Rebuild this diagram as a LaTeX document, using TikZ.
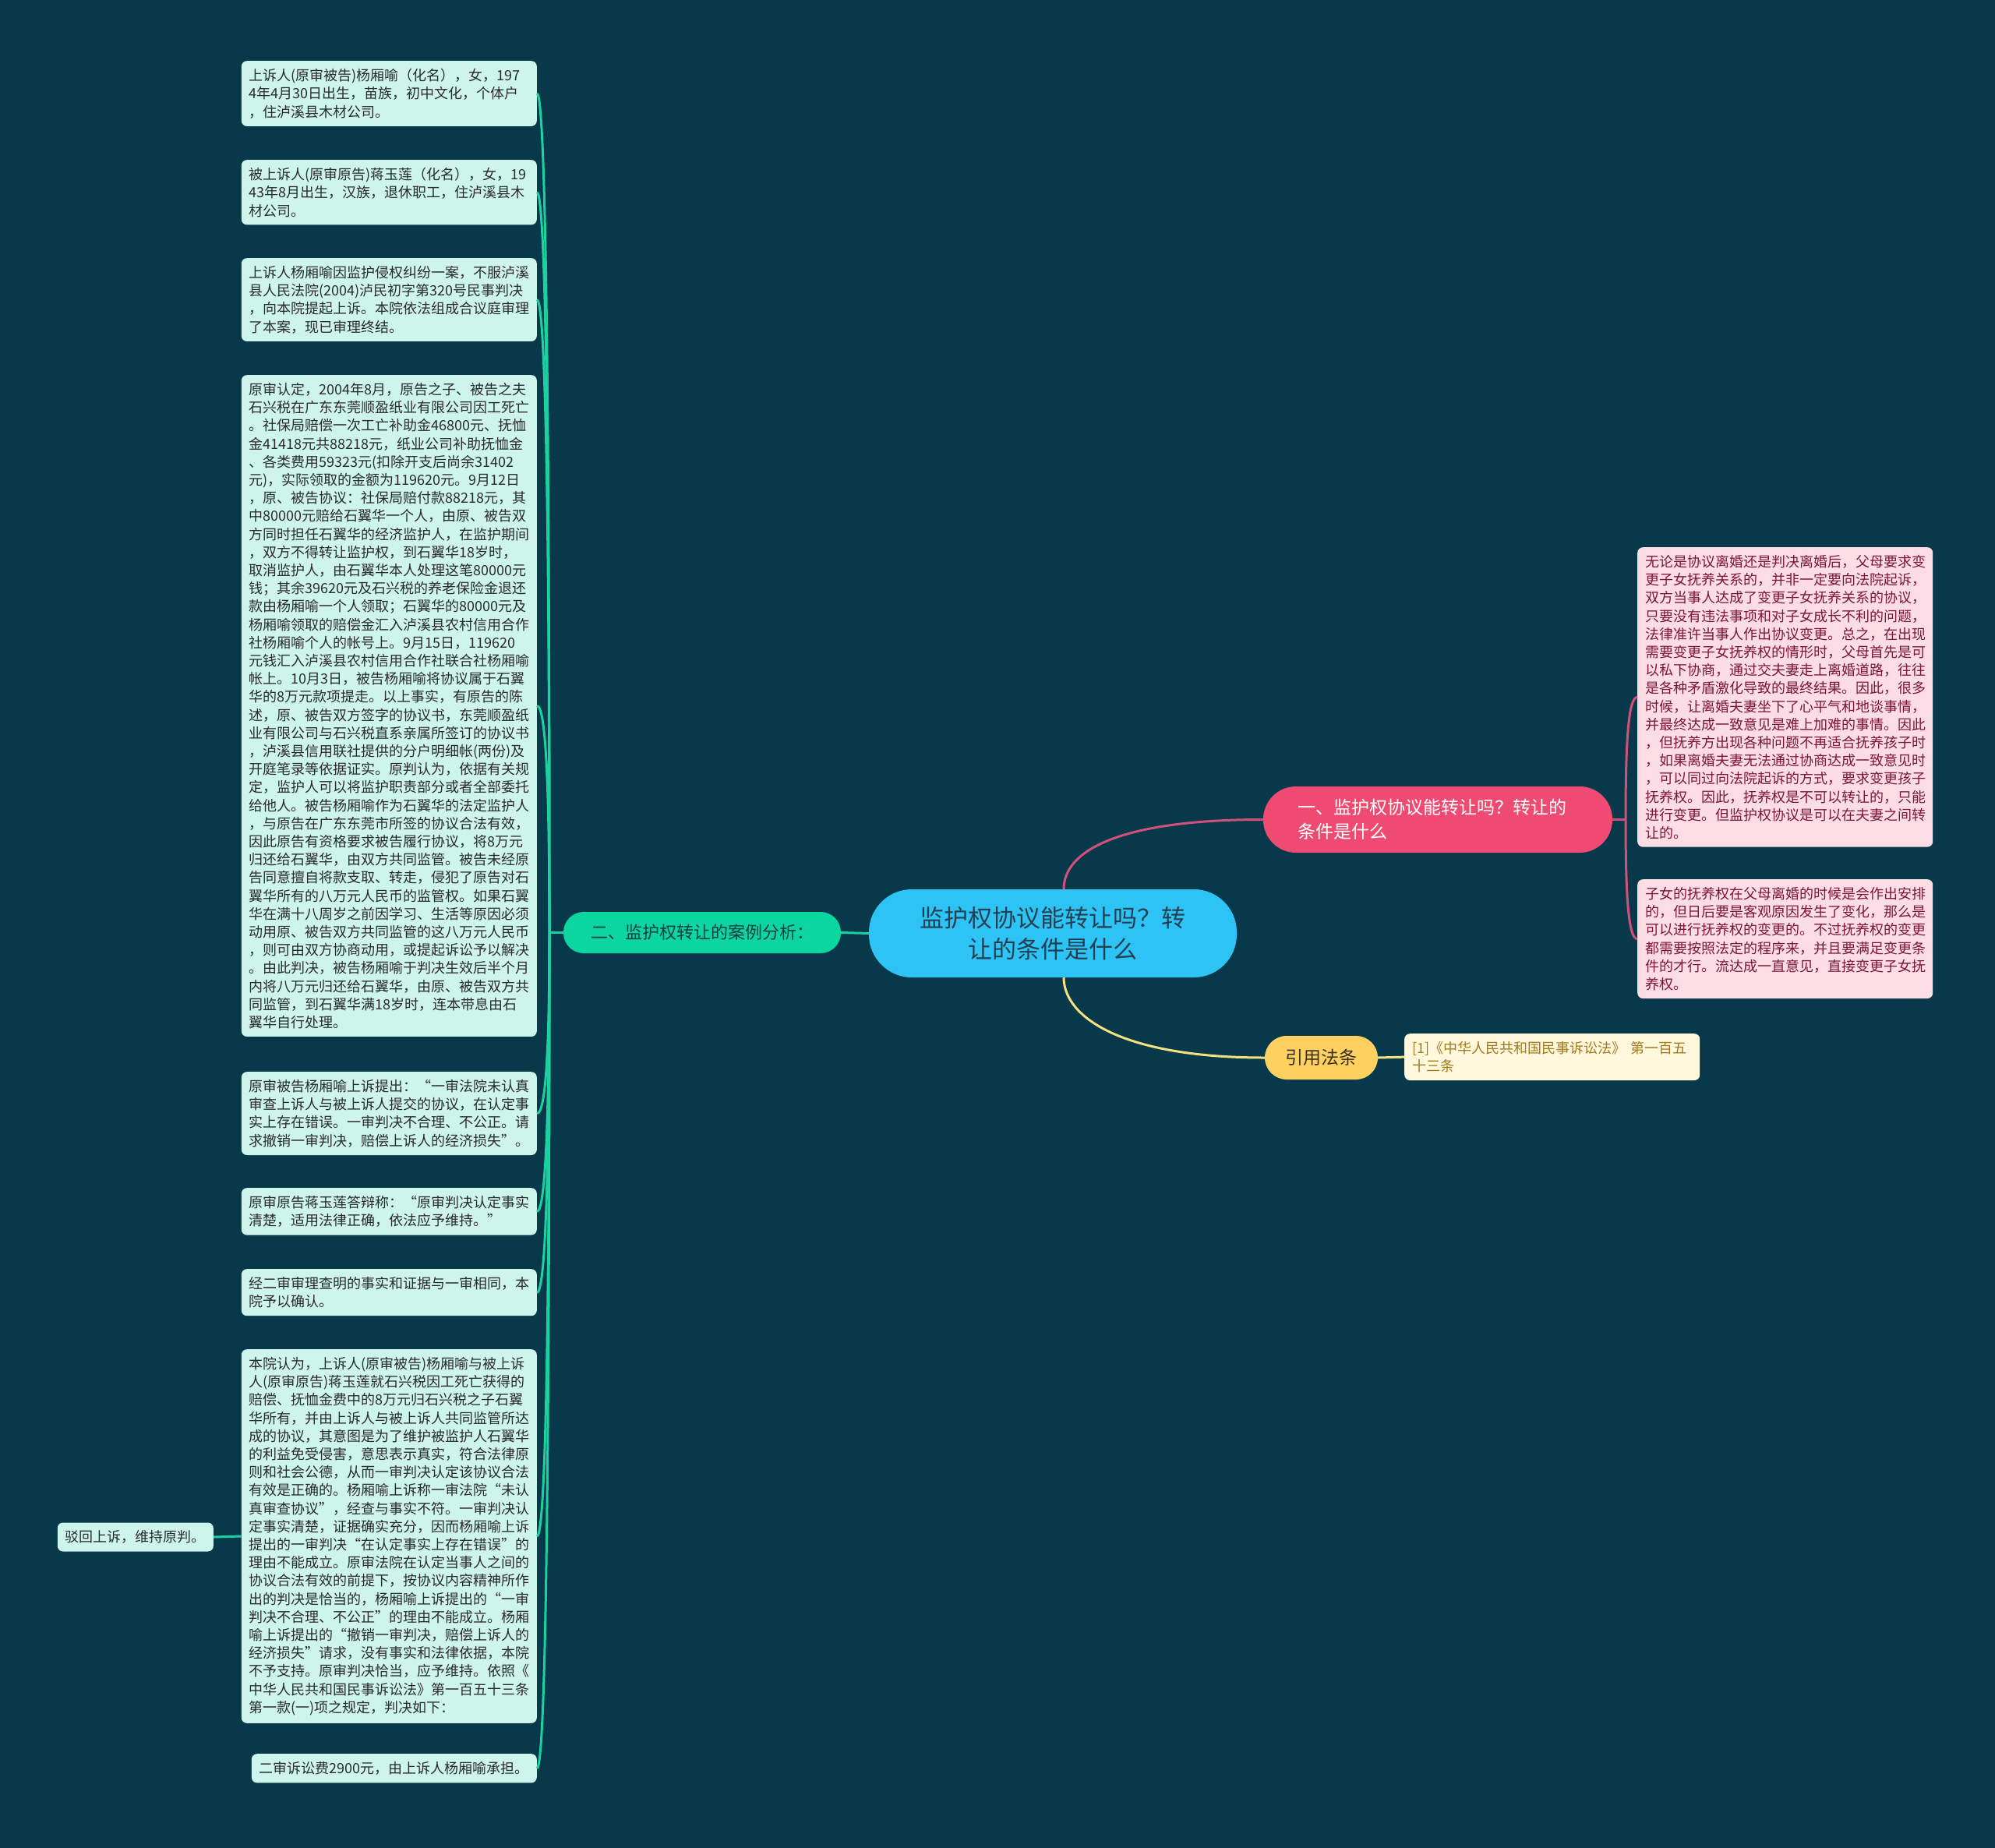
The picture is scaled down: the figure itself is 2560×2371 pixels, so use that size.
\documentclass[tikz,border=0pt]{standalone}
\usepackage{fontspec}
\setmainfont{Noto Sans CJK SC}
\usetikzlibrary{calc}
\definecolor{bgc}{HTML}{07394B}
\definecolor{mint}{HTML}{CDF5EC}
\definecolor{darktext}{HTML}{2A2A2A}
\definecolor{gline}{HTML}{1BD1A0}
\definecolor{gnode}{HTML}{0CD6A0}
\definecolor{gtext}{HTML}{11403F}
\definecolor{rootc}{HTML}{2DC4F5}
\definecolor{roottext}{HTML}{233F52}
\definecolor{pnode}{HTML}{EF4B72}
\definecolor{pline}{HTML}{D2507A}
\definecolor{pbox}{HTML}{FCDDE4}
\definecolor{ptext}{HTML}{7D1538}
\definecolor{ynode}{HTML}{FDD15F}
\definecolor{ytext}{HTML}{3A3020}
\definecolor{yline}{HTML}{F3E07E}
\definecolor{citefill}{HTML}{FFF8DD}
\definecolor{citetext}{HTML}{A3791C}
\newcommand\boxfont{\fontsize{18bp}{23.2bp}\selectfont}
\begin{document}
\begin{tikzpicture}[x=1bp,y=-1bp,
  basebox/.style={draw=none, rounded corners=7bp, inner xsep=10bp, inner ysep=10bp, align=left, font=\boxfont},
  leftbox/.style={basebox, fill=mint, text=darktext, text width=359bp, anchor=north east},
  leftsingle/.style={basebox, fill=mint, text=darktext},
  pinkbox/.style={basebox, fill=pbox, text=ptext, text width=359bp, anchor=north west},
  citebox/.style={basebox, fill=citefill, text=citetext, text width=359bp, anchor=north west},
  gconn/.style={draw=gline, line width=3bp},
  pconn/.style={draw=pline, line width=3bp},
  yconn/.style={draw=yline, line width=3bp}]
\useasboundingbox[fill=bgc] (0,0) rectangle (2560,2371);

% root and main branches
\node[fill=rootc, text=roottext, rounded corners=55bp, minimum width=472bp, minimum height=113bp, align=center, inner sep=0pt, font=\fontsize{31bp}{40bp}\selectfont] (root) at (1351,1197.5) {监护权协议能转让吗？转\\让的条件是什么};
\node[fill=pnode, text=white, rounded corners=42bp, text width=360bp, inner xsep=44bp, minimum height=85bp, align=left, font=\fontsize{23bp}{31bp}\selectfont] (p1) at (1845,1051.5) {一、监护权协议能转让吗？转让的\\条件是什么};
\node[fill=gnode, text=gtext, rounded corners=26bp, minimum width=356bp, minimum height=53bp, align=center, inner sep=0pt, font=\fontsize{22bp}{28bp}\selectfont] (g) at (901,1196.5) {二、监护权转让的案例分析：};
\node[fill=ynode, text=ytext, rounded corners=28bp, minimum width=145bp, minimum height=56bp, align=center, inner sep=0pt, font=\fontsize{23bp}{28bp}\selectfont] (y1) at (1695.5,1357) {引用法条};

% left column
\node[leftbox] (b1) at (689,78) {上诉人(原审被告)杨厢喻（化名），女，197\\4年4月30日出生，苗族，初中文化，个体户\\，住泸溪县木材公司。};
\node[leftbox] (b2) at (689,205) {被上诉人(原审原告)蒋玉莲（化名），女，19\\43年8月出生，汉族，退休职工，住泸溪县木\\材公司。};
\node[leftbox] (b3) at (689,331) {上诉人杨厢喻因监护侵权纠纷一案，不服泸溪\\县人民法院(2004)泸民初字第320号民事判决\\，向本院提起上诉。本院依法组成合议庭审理\\了本案，现已审理终结。};
\node[leftbox] (b4) at (689,481) {原审认定，2004年8月，原告之子、被告之夫\\石兴税在广东东莞顺盈纸业有限公司因工死亡\\。社保局赔偿一次工亡补助金46800元、抚恤\\金41418元共88218元，纸业公司补助抚恤金\\、各类费用59323元(扣除开支后尚余31402\\元)，实际领取的金额为119620元。9月12日\\，原、被告协议：社保局赔付款88218元，其\\中80000元赔给石翼华一个人，由原、被告双\\方同时担任石翼华的经济监护人，在监护期间\\，双方不得转让监护权，到石翼华18岁时，\\取消监护人，由石翼华本人处理这笔80000元\\钱；其余39620元及石兴税的养老保险金退还\\款由杨厢喻一个人领取；石翼华的80000元及\\杨厢喻领取的赔偿金汇入泸溪县农村信用合作\\社杨厢喻个人的帐号上。9月15日，119620\\元钱汇入泸溪县农村信用合作社联合社杨厢喻\\帐上。10月3日，被告杨厢喻将协议属于石翼\\华的8万元款项提走。以上事实，有原告的陈\\述，原、被告双方签字的协议书，东莞顺盈纸\\业有限公司与石兴税直系亲属所签订的协议书\\，泸溪县信用联社提供的分户明细帐(两份)及\\开庭笔录等依据证实。原判认为，依据有关规\\定，监护人可以将监护职责部分或者全部委托\\给他人。被告杨厢喻作为石翼华的法定监护人\\，与原告在广东东莞市所签的协议合法有效，\\因此原告有资格要求被告履行协议，将8万元\\归还给石翼华，由双方共同监管。被告未经原\\告同意擅自将款支取、转走，侵犯了原告对石\\翼华所有的八万元人民币的监管权。如果石翼\\华在满十八周岁之前因学习、生活等原因必须\\动用原、被告双方共同监管的这八万元人民币\\，则可由双方协商动用，或提起诉讼予以解决\\。由此判决，被告杨厢喻于判决生效后半个月\\内将八万元归还给石翼华，由原、被告双方共\\同监管，到石翼华满18岁时，连本带息由石\\翼华自行处理。};
\node[leftbox] (b5) at (689,1375) {原审被告杨厢喻上诉提出：“一审法院未认真\\审查上诉人与被上诉人提交的协议，在认定事\\实上存在错误。一审判决不合理、不公正。请\\求撤销一审判决，赔偿上诉人的经济损失”。};
\node[leftbox] (b6) at (689,1524) {原审原告蒋玉莲答辩称：“原审判决认定事实\\清楚，适用法律正确，依法应予维持。”};
\node[leftbox] (b7) at (689,1628) {经二审审理查明的事实和证据与一审相同，本\\院予以确认。};
\node[leftbox] (b8) at (689,1731) {本院认为，上诉人(原审被告)杨厢喻与被上诉\\人(原审原告)蒋玉莲就石兴税因工死亡获得的\\赔偿、抚恤金费中的8万元归石兴税之子石翼\\华所有，并由上诉人与被上诉人共同监管所达\\成的协议，其意图是为了维护被监护人石翼华\\的利益免受侵害，意思表示真实，符合法律原\\则和社会公德，从而一审判决认定该协议合法\\有效是正确的。杨厢喻上诉称一审法院“未认\\真审查协议”，经查与事实不符。一审判决认\\定事实清楚，证据确实充分，因而杨厢喻上诉\\提出的一审判决“在认定事实上存在错误”的\\理由不能成立。原审法院在认定当事人之间的\\协议合法有效的前提下，按协议内容精神所作\\出的判决是恰当的，杨厢喻上诉提出的“一审\\判决不合理、不公正”的理由不能成立。杨厢\\喻上诉提出的“撤销一审判决，赔偿上诉人的\\经济损失”请求，没有事实和法律依据，本院\\不予支持。原审判决恰当，应予维持。依照《\\中华人民共和国民事诉讼法》第一百五十三条\\第一款(一)项之规定，判决如下：};
\node[leftsingle, anchor=north east] (b9) at (689,2250) {二审诉讼费2900元，由上诉人杨厢喻承担。};
\node[leftsingle, anchor=east] (bo) at (274,{1972}) {驳回上诉，维持原判。};

% right column
\node[pinkbox] (ra) at (2101,702) {无论是协议离婚还是判决离婚后，父母要求变\\更子女抚养关系的，并非一定要向法院起诉，\\双方当事人达成了变更子女抚养关系的协议，\\只要没有违法事项和对子女成长不利的问题，\\法律准许当事人作出协议变更。总之，在出现\\需要变更子女抚养权的情形时，父母首先是可\\以私下协商，通过交夫妻走上离婚道路，往往\\是各种矛盾激化导致的最终结果。因此，很多\\时候，让离婚夫妻坐下了心平气和地谈事情，\\并最终达成一致意见是难上加难的事情。因此\\，但抚养方出现各种问题不再适合抚养孩子时\\，如果离婚夫妻无法通过协商达成一致意见时\\，可以同过向法院起诉的方式，要求变更孩子\\抚养权。因此，抚养权是不可以转让的，只能\\进行变更。但监护权协议是可以在夫妻之间转\\让的。};
\node[pinkbox] (rb) at (2101,1128) {子女的抚养权在父母离婚的时候是会作出安排\\的，但日后要是客观原因发生了变化，那么是\\可以进行抚养权的变更的。不过抚养权的变更\\都需要按照法定的程序来，并且要满足变更条\\件的才行。流达成一直意见，直接变更子女抚\\养权。};
\node[citebox] (cite) at (1802,1326) {[1]《中华人民共和国民事诉讼法》 第一百五\\十三条};

% connectors from root
\coordinate (rtop) at ($(root.north)+(14,0)$);
\coordinate (rbot) at ($(root.south)+(14,0)$);
\draw[pconn] (rtop) .. controls (1365,1090) and (1440,1051.5) .. (p1.west);
\draw[yconn] (rbot) .. controls (1365,1305) and (1440,1357) .. (y1.west);
\draw[gconn] (root.west) -- (g.east);
\draw[yconn] (y1.east) -- (cite.west);

% left trunk
\coordinate (LT) at (705,1196.5);
\draw[gconn] (g.west) -- (LT);
\foreach \n in {b1,b2,b3,b4,b5,b6,b7,b8,b9}{
  \path (LT|-\n.east) coordinate (tmp);
  \draw[gconn] (LT) .. controls ($(LT)!0.6!(tmp)$) and ($(\n.east)+(12,0)$) .. (\n.east);
}
\draw[gconn] (bo.east) -- (b8.west);

% right trunk
\coordinate (RT) at (2086,1051.5);
\draw[pconn] (p1.east) -- (RT);
\foreach \n in {ra,rb}{
  \path (RT|-\n.west) coordinate (tmp);
  \draw[pconn] (RT) .. controls ($(RT)!0.6!(tmp)$) and ($(\n.west)+(-12,0)$) .. (\n.west);
}
\end{tikzpicture}
\end{document}
